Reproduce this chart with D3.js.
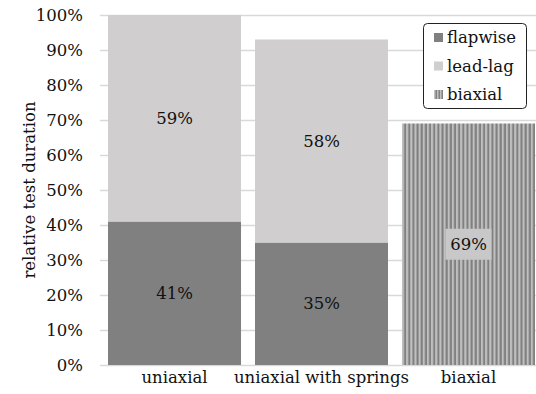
<!DOCTYPE html>
<html>
<head>
<meta charset="utf-8">
<script src="https://cdn.jsdelivr.net/npm/d3@7"></script>
<style>
  html, body { margin: 0; padding: 0; background: #fff; }
  svg text { font-family: "DejaVu Serif", serif; }
</style>
</head>
<body>
<svg id="chart" width="536" height="394"></svg>
<script>
// Test configurations along the x axis
const categories = ["uniaxial", "uniaxial with springs", "biaxial"];
// Share of the reference test duration, per load direction (%)
const flapwise = [41, 35, 0];
const leadLag = [59, 58, 0];
const biaxial = [0, 0, 69];
const seriesNames = ["flapwise", "lead-lag", "biaxial"];
const yTicks = [0, 10, 20, 30, 40, 50, 60, 70, 80, 90, 100];

const svg = d3.select("#chart");
const W = 536, H = 394;
const margin = { left: 100, top: 15, bottom: 29 };
const plotBottom = H - margin.bottom;
const fontSize = 16.5;

const x = d3.scaleBand()
  .domain(categories)
  .range([101, 542])
  .paddingInner(0.095)
  .paddingOuter(0.0476);

const y = d3.scaleLinear().domain([0, 100]).range([plotBottom, margin.top]);

const dark = "#808080", light = "#d0cecf", stripeLight = "#c0c0c0";

// vertical stripe fill for the biaxial bar
const defs = svg.append("defs");
const stripeW = x.bandwidth() / 32;
const pat = defs.append("pattern")
  .attr("id", "stripes")
  .attr("patternUnits", "userSpaceOnUse")
  .attr("x", x("biaxial"))
  .attr("width", stripeW).attr("height", 10);
pat.append("rect").attr("width", stripeW).attr("height", 10).attr("fill", stripeLight);
pat.append("rect").attr("x", stripeW / 2).attr("width", stripeW / 2).attr("height", 10).attr("fill", dark);

const legPat = defs.append("pattern")
  .attr("id", "stripesLegend")
  .attr("patternUnits", "userSpaceOnUse")
  .attr("x", 434)
  .attr("width", 3).attr("height", 10);
legPat.append("rect").attr("width", 3).attr("height", 10).attr("fill", stripeLight);
legPat.append("rect").attr("x", 1.5).attr("width", 1.5).attr("height", 10).attr("fill", dark);

// grid lines
const yAxis = d3.axisLeft(y)
  .tickValues(yTicks)
  .tickSize(-(W - margin.left))
  .tickFormat(d => d + "%");
const gAxis = svg.append("g").attr("transform", `translate(${margin.left},0)`).call(yAxis);
gAxis.attr("font-family", null).attr("font-size", null);
gAxis.select(".domain").remove();
gAxis.selectAll(".tick line").attr("stroke", "#d9d9d9").attr("stroke-width", 1.3);
gAxis.selectAll(".tick text")
  .attr("x", -17)
  .attr("font-size", fontSize)
  .attr("fill", "#111");

// stacked bars
const stackData = categories.map((c, i) => ({ cat: c, flapwise: flapwise[i], "lead-lag": leadLag[i], biaxial: biaxial[i] }));
const stack = d3.stack().keys(seriesNames)(stackData);
const fills = { "flapwise": dark, "lead-lag": light, "biaxial": "url(#stripes)" };

svg.append("g").selectAll("g")
  .data(stack).join("g")
  .attr("fill", s => fills[s.key])
  .selectAll("rect")
  .data(s => s.filter(d => d[1] - d[0] > 0))
  .join("rect")
  .attr("x", d => x(d.data.cat))
  .attr("width", x.bandwidth())
  .attr("y", d => y(d[1]))
  .attr("height", d => y(d[0]) - y(d[1]));

// value labels
const labels = [];
stack.forEach(s => s.forEach(d => {
  const v = d[1] - d[0];
  if (v > 0) labels.push({ key: s.key, cat: d.data.cat, v, cy: (y(d[0]) + y(d[1])) / 2 });
}));

const lg = svg.append("g");
labels.forEach(l => {
  const cx = x(l.cat) + x.bandwidth() / 2;
  if (l.key === "biaxial") {
    lg.append("rect")
      .attr("x", cx - 23).attr("y", l.cy - 15.5)
      .attr("width", 46).attr("height", 31)
      .attr("fill", "#c8c8c8");
  }
  lg.append("text")
    .attr("x", cx).attr("y", l.cy)
    .attr("text-anchor", "middle")
    .attr("dominant-baseline", "central")
    .attr("font-size", fontSize)
    .attr("fill", "#111")
    .text(l.v + "%");
});

// category labels
svg.append("g").selectAll("text")
  .data(categories).join("text")
  .attr("x", d => x(d) + x.bandwidth() / 2)
  .attr("y", 383)
  .attr("text-anchor", "middle")
  .attr("font-size", fontSize)
  .attr("fill", "#111")
  .text(d => d);

// y axis title
svg.append("text")
  .attr("transform", `translate(35,${(margin.top + plotBottom) / 2}) rotate(-90)`)
  .attr("text-anchor", "middle")
  .attr("font-size", fontSize)
  .attr("fill", "#111")
  .text("relative test duration");

// legend
const leg = svg.append("g");
leg.append("rect")
  .attr("x", 423.5).attr("y", 23.5)
  .attr("width", 103).attr("height", 85)
  .attr("rx", 4)
  .attr("fill", "#fff")
  .attr("stroke", "#222")
  .attr("stroke-width", 1);
const legFills = { "flapwise": dark, "lead-lag": light, "biaxial": "url(#stripesLegend)" };
seriesNames.forEach((name, i) => {
  const by = 43 + i * 28.5;
  leg.append("rect")
    .attr("x", 434).attr("y", by - 10)
    .attr("width", 9).attr("height", 9)
    .attr("fill", legFills[name]);
  leg.append("text")
    .attr("x", 447).attr("y", by)
    .attr("font-size", fontSize)
    .attr("fill", "#111")
    .text(name);
});
</script>
</body>
</html>
